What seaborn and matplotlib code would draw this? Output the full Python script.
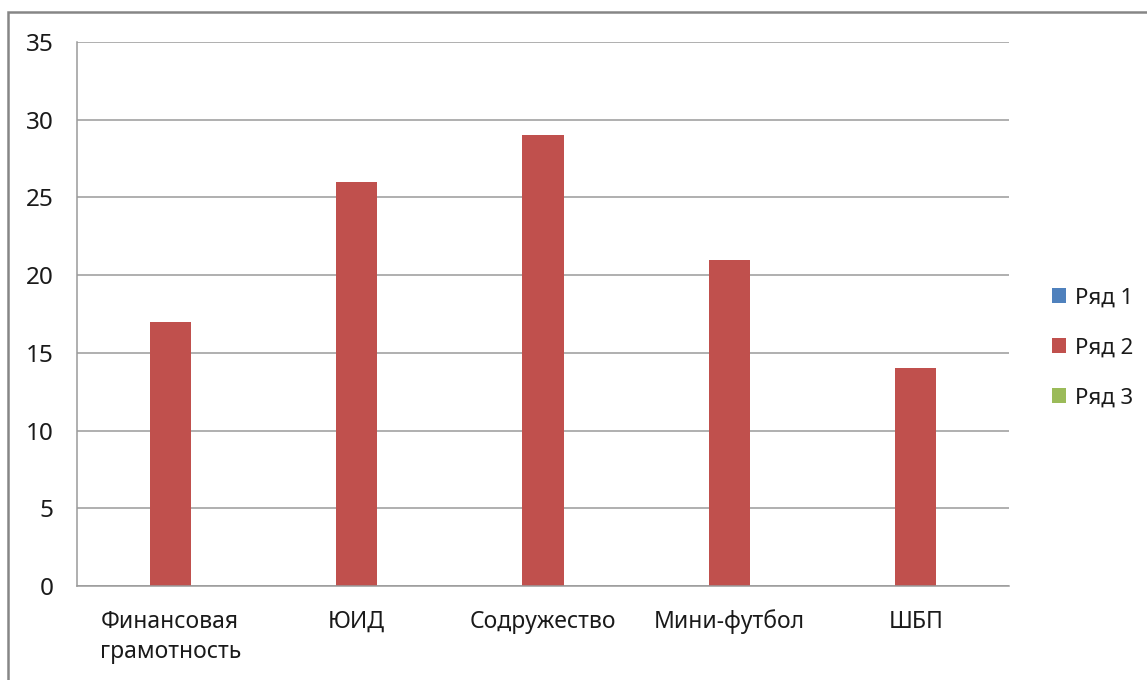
import pandas as pd
import matplotlib
matplotlib.use("Agg")
import matplotlib.pyplot as plt
import seaborn as sns
from matplotlib.patches import Rectangle

categories = ["Финансовая\nграмотность", "ЮИД", "Содружество", "Мини-футбол", "ШБП"]
series = ["Ряд 1", "Ряд 2", "Ряд 3"]
row1 = [0, 0, 0, 0, 0]
row2 = [17, 26, 29, 21, 14]
row3 = [0, 0, 0, 0, 0]
colors = ["#4F81BD", "#C0504D", "#9BBB59"]

df = pd.DataFrame({
    "cat": categories * 3,
    "series": [s for s in series for _ in categories],
    "val": row1 + row2 + row3,
})

sns.set_style("white")
plt.rcParams['font.family'] = ['Noto Sans', 'DejaVu Sans']

fig = plt.figure(figsize=(11.47, 6.8), dpi=100)
ax = fig.add_axes([77/1147, 1 - 586/680, (1009-77)/1147, (586-42)/680])

sns.barplot(data=df, x="cat", y="val", hue="series", palette=colors,
            width=0.66, linewidth=0, saturation=1, ax=ax, legend=True)

grid_c = "#9A9A9A"
ax.set_ylim(0, 35)
ax.set_yticks(range(0, 36, 5))
ax.set_xlim(-0.5, 4.5)
ax.yaxis.grid(True, color=grid_c, lw=1.1)
ax.set_axisbelow(True)
ax.set_xlabel("")
ax.set_ylabel("")
for s in ["top", "right"]:
    ax.spines[s].set_visible(False)
for s in ["left", "bottom"]:
    ax.spines[s].set_color(grid_c)
    ax.spines[s].set_linewidth(1.1)

ax.set_xticks(range(5))
ax.set_xticklabels(categories, linespacing=1.35)
ax.set_xticks([i - 0.5 for i in range(6)], minor=True)
ax.tick_params(axis="x", which="major", length=0, pad=17, labelsize=16.5, colors="#1a1a1a")
ax.tick_params(axis="x", which="minor", length=6, width=1.1, color=grid_c, direction="out")
ax.tick_params(axis="y", length=7, width=1.1, color=grid_c, direction="out", pad=10,
               labelsize=17.5, labelcolor="#1a1a1a")

handles, labels = ax.get_legend_handles_labels()
ax.legend(handles, labels, loc="center left", bbox_to_anchor=(1052/1147, 1 - 348/680),
          bbox_transform=fig.transFigure, frameon=False, fontsize=16,
          borderpad=0, borderaxespad=0,
          handlelength=0.65, handleheight=0.65, handletextpad=0.4, labelspacing=1.3,
          labelcolor="#1a1a1a")

fig.patches.append(Rectangle((8/1147, -0.1), 1.2, 1.1 - 12/680, transform=fig.transFigure,
                             fill=False, edgecolor="#868686", lw=1.8))

plt.savefig("out.png", dpi=100)
